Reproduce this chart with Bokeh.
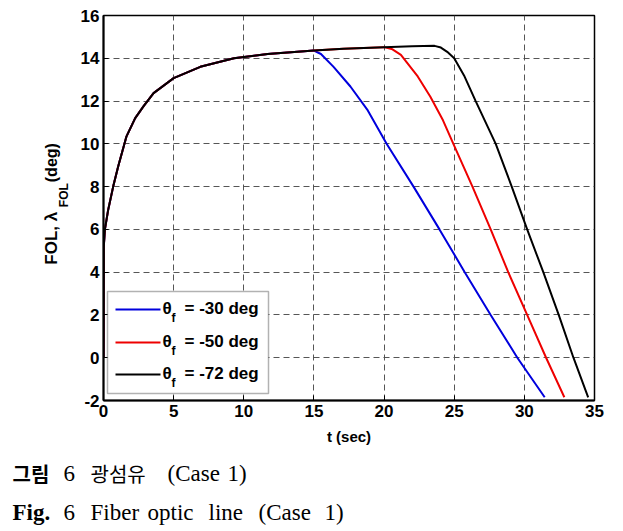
import numpy as np
from bokeh.plotting import figure
from bokeh.layouts import row, column
from bokeh.models import BoxAnnotation, Arrow, Label, FixedTicker, Range1d
from bokeh.core.properties import value
from bokeh.embed import file_html
from bokeh.resources import INLINE

# ---- data ----
t_rise = [0, 0.02, 0.1, 0.33, 0.69, 1.05, 1.64, 2.26, 2.86, 3.57, 5.0, 6.9, 9.3, 11.7, 14.3, 15.0]
y_rise = [0, 5.2, 6.0, 6.9, 8.0, 8.95, 10.35, 11.2, 11.76, 12.37, 13.07, 13.6, 14.0, 14.2, 14.33, 14.36]
t_plateau = [17.1, 20.0, 22.0, 23.6]
y_plateau = [14.44, 14.52, 14.56, 14.58]

t_30 = [15.5, 16.4, 17.6, 18.8, 20.18, 22.1, 23.95, 25.75, 27.6, 29.5, 31.45]
y_30 = [14.2, 13.6, 12.68, 11.6, 10.0, 8.0, 6.0, 4.0, 2.0, 0.0, -1.85]
t_50 = [20.6, 21.2, 22.4, 23.3, 24.2, 24.94, 26.3, 27.6, 28.85, 30.2, 31.55, 32.85]
y_50 = [14.42, 14.16, 13.15, 12.2, 11.1, 10.0, 8.0, 6.0, 4.0, 2.0, 0.0, -1.85]
t_72 = [24.05, 24.5, 25.0, 25.7, 26.53, 27.96, 29.1, 30.2, 31.35, 32.45, 33.5, 34.55]
y_72 = [14.5, 14.3, 14.0, 13.2, 12.0, 10.0, 8.0, 6.0, 4.0, 2.0, 0.0, -1.85]

legend_values = ["= -30 deg", "= -50 deg", "= -72 deg"]
colors = ["#0000DD", "#EE0000", "#000000"]
x_ticks = [0, 5, 10, 15, 20, 25, 30, 35]
y_ticks = [-2, 0, 2, 4, 6, 8, 10, 12, 14, 16]

def upto(ts, ys, tmax):
    return [t for t in ts if t <= tmax], [y for t, y in zip(ts, ys) if t <= tmax]

tc = t_rise + t_plateau
yc = y_rise + y_plateau
a_t, a_y = upto(tc, yc, 15.0)
b_t, b_y = upto(tc, yc, 20.0)
c_t, c_y = upto(tc, yc, 23.6)
series = [(a_t + t_30, a_y + y_30), (b_t + t_50, b_y + y_50), (c_t + t_72, c_y + y_72)]

FONT = "Liberation Sans"
SERIF = "Liberation Serif"
CJK = "Noto Sans CJK KR"

W, H_TOP, H_CAP, W_LAB = 623, 448, 83, 75

# ---------------- main plot ----------------
p = figure(frame_width=491, frame_height=385, output_backend="svg", toolbar_location=None,
           x_range=Range1d(0, 35), y_range=Range1d(-2, 16),
           min_border_left=103 - W_LAB, min_border_right=29, min_border_top=15,
           min_border_bottom=48)
p.outline_line_color = "black"
p.outline_line_width = 1.5

for ax in (p.xaxis[0], p.yaxis[0]):
    ax.major_label_text_font = FONT
    ax.major_label_text_font_style = "bold"
    ax.major_label_text_font_size = "17px"
    ax.major_label_text_color = "black"
    ax.axis_line_color = "black"
    ax.axis_line_width = 2
    ax.major_tick_in = 5
    ax.major_tick_out = 0
    ax.major_tick_line_color = "black"
    ax.minor_tick_line_color = None
p.xaxis.ticker = FixedTicker(ticks=x_ticks)
p.yaxis.ticker = FixedTicker(ticks=y_ticks)
p.xaxis.major_label_overrides = {v: str(v) for v in x_ticks}
p.yaxis.major_label_overrides = {v: str(v) for v in y_ticks}
p.xaxis.major_label_standoff = 4
p.yaxis.major_label_standoff = 4
p.xaxis.axis_label = "t (sec)"
p.xaxis.axis_label_text_font = FONT
p.xaxis.axis_label_text_font_style = "bold"
p.xaxis.axis_label_text_font_size = "15px"
p.xaxis.axis_label_text_color = "black"
p.xaxis.axis_label_standoff = 8

for g in (p.xgrid[0], p.ygrid[0]):
    g.grid_line_color = "#444444"
    g.grid_line_dash = "6 4"
    g.grid_line_width = 1
    g.grid_line_alpha = 0.9

for (ts, ys), c in zip(series, colors):
    p.line(ts, ys, line_color=c, line_width=2)

# legend (drawn inside the frame)
p.add_layout(BoxAnnotation(left=4, right=165, top=109, bottom=7, left_units="screen",
                           right_units="screen", top_units="screen", bottom_units="screen",
                           fill_color="white", fill_alpha=1, line_color="black", line_width=1.5,
                           level="overlay"))
row_y = [91, 58, 26]
for yy, c, txt in zip(row_y, colors, legend_values):
    p.add_layout(Arrow(x_start=12, x_end=57, y_start=yy, y_end=yy, start_units="screen",
                       end_units="screen", end=None, line_color=c, line_width=2, level="overlay"))
    lab = dict(x_units="screen", y_units="screen", text_font=FONT, text_font_style="bold",
               text_color="black", text_baseline="middle", text_align="left", level="overlay")
    p.add_layout(Label(x=59, y=yy + 1, text="θ", text_font_size="17px", **lab))
    p.add_layout(Label(x=68, y=yy - 8, text="f", text_font_size="12px", **lab))
    p.add_layout(Label(x=81, y=yy + 1, text=txt, text_font_size="17px", **lab))

# ---------------- y-axis label panel ----------------
yl = figure(width=W_LAB, height=H_TOP, output_backend="svg", toolbar_location=None,
            x_range=Range1d(0, W_LAB), y_range=Range1d(0, H_TOP), min_border=0,
            x_axis_location=None, y_axis_location=None)
yl.grid.visible = False
yl.outline_line_color = None
ylab_text = ["FOL, λ", "FOL", "(deg)"]
ylab_x = [51, 63, 51]
ylab_y = [H_TOP - 290, H_TOP - 223, H_TOP - 194]
ylab_size = ["17px", "12px", "16px"]
for t, xx, yy, fs in zip(ylab_text, ylab_x, ylab_y, ylab_size):
    yl.text(x=[xx], y=[yy], text=[t], angle=np.pi / 2, text_font=value(FONT),
            text_font_style="bold", text_font_size=fs, text_color="black",
            text_align="left", text_baseline="middle")

# ---------------- caption panel ----------------
cp = figure(width=W, height=H_CAP, output_backend="svg", toolbar_location=None,
            x_range=Range1d(0, W), y_range=Range1d(0, H_CAP), min_border=0,
            x_axis_location=None, y_axis_location=None)
cp.grid.visible = False
cp.outline_line_color = None
Y0 = H_TOP + H_CAP
cap_words = [
    ("그림", 12, 473, CJK, "bold", "20px"),
    ("6", 63, 473, SERIF, "normal", "23px"),
    ("광섬유", 90, 473, CJK, "normal", "20px"),
    ("(Case", 167, 473, SERIF, "normal", "23px"),
    ("1)", 227, 473, SERIF, "normal", "23px"),
    ("Fig.", 12, 512, SERIF, "bold", "23px"),
    ("6", 63, 512, SERIF, "normal", "23px"),
    ("Fiber", 90, 512, SERIF, "normal", "23px"),
    ("optic", 147, 512, SERIF, "normal", "23px"),
    ("line", 208, 512, SERIF, "normal", "23px"),
    ("(Case", 258, 512, SERIF, "normal", "23px"),
    ("1)", 324, 512, SERIF, "normal", "23px"),
]
for t, xx, yy, f, st, fs in cap_words:
    cp.text(x=[xx], y=[Y0 - yy], text=[t], text_font=value(f), text_font_style=st,
            text_font_size=fs, text_color="black", text_align="left", text_baseline="middle")

layout = column(row(yl, p), cp)
open("out.html", "w").write(file_html(layout, INLINE))
